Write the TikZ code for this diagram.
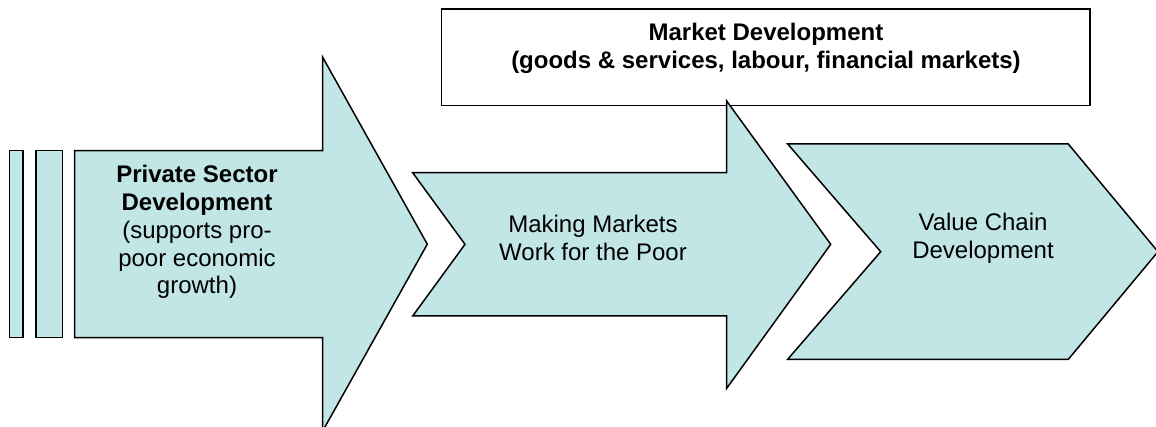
\documentclass[tikz,border=0pt]{standalone}
\usepackage{fontspec}
\setmainfont{Liberation Sans}
\begin{document}
\begin{tikzpicture}[x=1pt,y=-1pt]
        \definecolor{stagefill}{HTML}{C2E5E6}
        \tikzstyle{every path}=[line width=1.5pt,line join=miter]
        \tikzstyle{stage}=[fill=stagefill,draw=black]
        \tikzstyle{stagetext}=[align=center,font=\fontsize{24}{27.8}\selectfont,inner sep=0pt,text=black]
        \useasboundingbox (0,0) rectangle (1156,427);

        % box over the middle stage
        \draw (441.7,9) rectangle (1090,105.7);

        % bars in front of the first arrow
        \draw [stage] (9.5,150.7) rectangle (23,337.7);
        \draw [stage] (36,150.7) rectangle (62.3,337.7);

        % big arrow
        \draw [stage] (74.7,150.7) -- (322.7,150.7) -- (322.7,57.3) -- (427.3,244.2)
                -- (322.7,431) -- (322.7,337.7) -- (74.7,337.7) -- cycle;
        % middle chevron arrow
        \draw [stage] (412.7,172.7) -- (726.7,172.7) -- (726.7,101) -- (830.7,244.3)
                -- (726.7,388.3) -- (726.7,316) -- (412.7,316) -- (465,244.3) -- cycle;
        % last chevron
        \draw [stage] (787.7,144) -- (1068.3,144) -- (1158,251.7) -- (1068.3,359.3)
                -- (787.7,359.3) -- (880.7,251.7) -- cycle;

        \node [stagetext] (market) at (766,48) {\textbf{Market Development}\\\textbf{(goods \& services, labour, financial markets)}};
        \node [stagetext] (psd) at (197,232) {\textbf{Private Sector}\\\textbf{Development}\\(supports pro-\\poor economic\\growth)};
        \node [stagetext] (m4p) at (593,238) {Making Markets\\Work for the Poor};
        \node [stagetext] (vcd) at (983,238) {Value Chain\\Development};
\end{tikzpicture}
\end{document}
